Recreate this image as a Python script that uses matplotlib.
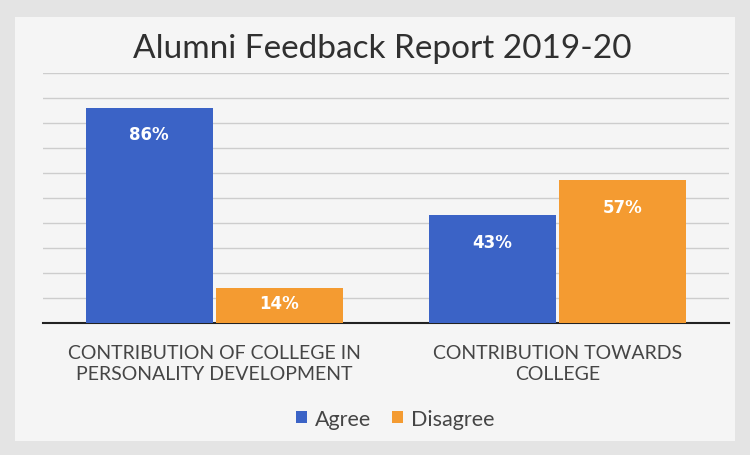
import matplotlib
matplotlib.use("Agg")
import matplotlib.pyplot as plt
import numpy as np

categories = ["CONTRIBUTION OF COLLEGE IN\nPERSONALITY DEVELOPMENT", "CONTRIBUTION TOWARDS\nCOLLEGE"]
series_names = ["Agree", "Disagree"]
agree = [86, 43]
disagree = [14, 57]
title = "Alumni Feedback Report 2019-20"

plt.rcParams['font.family'] = ['Lato', 'DejaVu Sans']
blue = '#3b63c6'
orange = '#f49b31'

fig = plt.figure(figsize=(7.5, 4.56), dpi=100)
fig.patch.set_facecolor('#e4e4e4')
bgax = fig.add_axes([0.02, 0.03, 0.96, 0.93], zorder=-1)
bgax.set_facecolor('#f5f5f5')
bgax.set_xticks([]); bgax.set_yticks([])
for s in bgax.spines.values():
    s.set_visible(False)

ax = fig.add_axes([0.057, 0.29, 0.915, 0.548], zorder=1)
ax.set_facecolor('none')
x = np.arange(len(categories))
w = 0.37
b1 = ax.bar(x - w/2 - 0.005, agree, w, color=blue, zorder=3)
b2 = ax.bar(x + w/2 + 0.005, disagree, w, color=orange, zorder=3)
for bars, vals in ((b1, agree), (b2, disagree)):
    for r, v in zip(bars, vals):
        off = 7 if v > 20 else 2.5
        ax.text(r.get_x() + r.get_width()/2, v - off, f"{v}%", ha='center', va='top',
                color='white', fontsize=12, fontweight='bold', family='DejaVu Sans', zorder=4)

ax.set_xlim(-0.5, 1.5)
ax.set_ylim(0, 100)
ax.set_yticks(np.arange(0, 101, 10))
ax.yaxis.grid(True, color='#cdcdcd', linewidth=1.0, zorder=0)
ax.tick_params(axis='y', left=False, labelleft=False)
ax.tick_params(axis='x', bottom=False, pad=12)
ax.set_xticks(x)
ax.set_xticklabels(categories, fontsize=14, color='#454545', linespacing=1.25)
for s in ['top', 'right', 'left']:
    ax.spines[s].set_visible(False)
ax.spines['bottom'].set_color('#222222')
ax.spines['bottom'].set_linewidth(1.5)

fig.text(0.51, 0.893, title, ha='center', va='center', fontsize=24, color='#303030')

leg = fig.legend([b1, b2], series_names, loc='center', bbox_to_anchor=(0.527, 0.08), ncol=2,
                 frameon=False, fontsize=15.5, handlelength=0.5, handleheight=0.5,
                 handletextpad=0.35, columnspacing=1.0)
for t in leg.get_texts():
    t.set_color('#454545')

fig.savefig("out.png", dpi=100, facecolor=fig.get_facecolor())
